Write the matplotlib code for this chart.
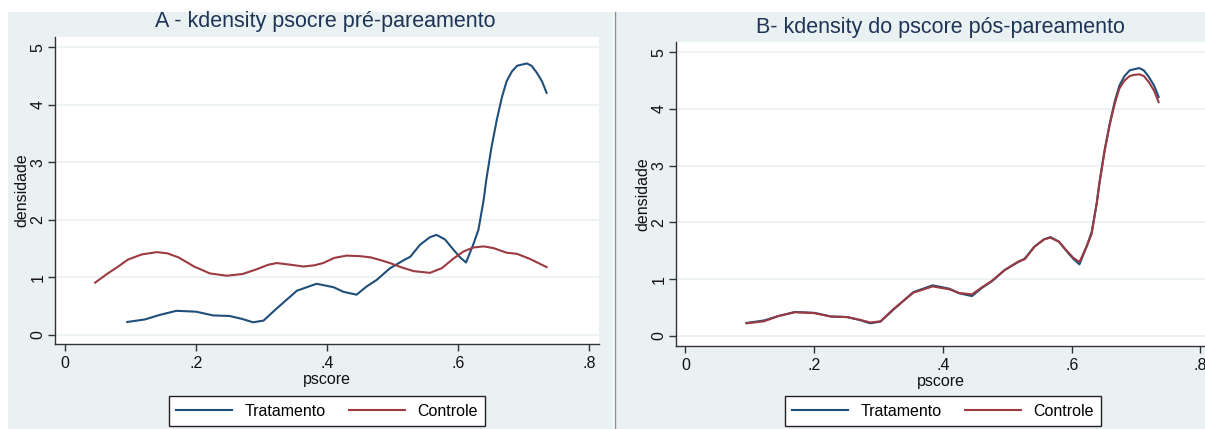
import matplotlib.pyplot as plt
from matplotlib.patches import Rectangle
from matplotlib.lines import Line2D

plt.rcParams['font.family'] = ['Liberation Sans', 'DejaVu Sans']

# Tratamento (same in both panels)
trat_x = [0.095, 0.122, 0.145, 0.17, 0.20, 0.226, 0.251, 0.27, 0.287, 0.303, 0.323,
          0.354, 0.384, 0.41, 0.425, 0.445, 0.46, 0.476, 0.496, 0.517, 0.527,
          0.542, 0.557, 0.567, 0.58, 0.593, 0.603, 0.612, 0.623, 0.631, 0.639,
          0.643, 0.651, 0.659, 0.667, 0.674, 0.682, 0.690, 0.697, 0.705, 0.712,
          0.720, 0.728, 0.735]
trat_y = [0.226, 0.27, 0.35, 0.42, 0.405, 0.34, 0.33, 0.28, 0.22, 0.25, 0.46,
          0.77, 0.89, 0.83, 0.75, 0.70, 0.84, 0.96, 1.16, 1.30, 1.36,
          1.57, 1.70, 1.74, 1.66, 1.48, 1.35, 1.26, 1.57, 1.83, 2.35,
          2.70, 3.27, 3.74, 4.14, 4.41, 4.58, 4.68, 4.70, 4.72, 4.68,
          4.56, 4.41, 4.21]

# Controle before matching
ctrl_pre_x = [0.046, 0.064, 0.08, 0.096, 0.117, 0.14, 0.156, 0.173, 0.197, 0.221,
              0.247, 0.271, 0.292, 0.31, 0.323, 0.345, 0.364, 0.38, 0.394, 0.411,
              0.43, 0.45, 0.466, 0.482, 0.496, 0.515, 0.532, 0.557, 0.575, 0.593,
              0.608, 0.623, 0.639, 0.654, 0.674, 0.69, 0.71, 0.735]
ctrl_pre_y = [0.91, 1.06, 1.18, 1.31, 1.40, 1.44, 1.42, 1.35, 1.19, 1.07,
              1.03, 1.06, 1.14, 1.22, 1.25, 1.22, 1.19, 1.21, 1.25, 1.34,
              1.38, 1.37, 1.35, 1.30, 1.25, 1.17, 1.11, 1.08, 1.16, 1.33,
              1.45, 1.52, 1.54, 1.51, 1.43, 1.41, 1.32, 1.18]

# Controle after matching (read at the same pscore points as Tratamento)
ctrl_pos_x = trat_x
ctrl_pos_y = [0.22, 0.255, 0.35, 0.415, 0.40, 0.34, 0.33, 0.285, 0.235, 0.255, 0.47,
              0.76, 0.87, 0.82, 0.755, 0.73, 0.85, 0.97, 1.16, 1.31, 1.35,
              1.57, 1.70, 1.73, 1.66, 1.49, 1.37, 1.30, 1.57, 1.80, 2.35,
              2.68, 3.25, 3.72, 4.10, 4.36, 4.50, 4.58, 4.60, 4.61, 4.58,
              4.47, 4.32, 4.12]

xticks = [0, 0.2, 0.4, 0.6, 0.8]
xtick_labels = ['0', '.2', '.4', '.6', '.8']
yticks = [0, 1, 2, 3, 4, 5]

BG = '#EAF1F3'
NAVY = '#1f4e79'
MAROON = '#9b3a40'
W, H = 1205, 429

fig = plt.figure(figsize=(W / 100, H / 100), dpi=100)
fig.patch.set_facecolor('white')

# panel backgrounds
fig.add_artist(Rectangle((8 / W, 0), (613 - 8) / W, (H - 12) / H, zorder=-10,
                         transform=fig.transFigure, facecolor=BG, edgecolor='none'))
fig.add_artist(Rectangle((616 / W, 0), (W - 616) / W, (H - 12) / H, zorder=-10,
                         transform=fig.transFigure, facecolor=BG, edgecolor='none'))
fig.add_artist(Line2D([614.5 / W, 614.5 / W], [0, (H - 12) / H], zorder=-9,
                      transform=fig.transFigure, color='#8a8f93', lw=1))


def px_axes(l, t, r, b):
    return fig.add_axes([l / W, 1 - b / H, (r - l) / W, (b - t) / H])


def style(ax, xlim, ylim, title, title_xy):
    ax.set_xlim(*xlim)
    ax.set_ylim(*ylim)
    ax.set_facecolor('white')
    for s in ['top', 'right']:
        ax.spines[s].set_visible(False)
    for s in ['left', 'bottom']:
        ax.spines[s].set_color('#333333')
        ax.spines[s].set_linewidth(1)
    ax.set_xticks(xticks)
    ax.set_xticklabels(xtick_labels)
    ax.set_yticks(yticks)
    ax.set_yticklabels([str(v) for v in yticks], rotation=90, va='center')
    ax.tick_params(axis='both', direction='out', length=5, width=1,
                   color='#333333', labelsize=11.5, labelcolor='#111111')
    ax.tick_params(axis='y', pad=2)
    ax.grid(axis='y', color=BG, lw=1.2)
    ax.set_axisbelow(True)
    ax.set_xlabel('pscore', fontsize=11.5, labelpad=1, color='#111111')
    ax.set_ylabel('densidade', fontsize=11.5, labelpad=1, color='#111111')
    fig.text(title_xy[0] / W, 1 - title_xy[1] / H, title, ha='center', va='center',
             fontsize=15.5, color='#1e3456')


# A - before matching
ax1 = px_axes(55, 37, 599, 344)
ax1.plot(trat_x, trat_y, color=NAVY, lw=1.5)
ax1.plot(ctrl_pre_x, ctrl_pre_y, color=MAROON, lw=1.5)
style(ax1, (-0.0153, 0.815), (-0.157, 5.18),
      'A - kdensity psocre pré-pareamento', (325, 22))

# B - after matching
ax2 = px_axes(676, 42, 1205, 346)
ax2.plot(trat_x, trat_y, color=NAVY, lw=1.5)
ax2.plot(ctrl_pos_x, ctrl_pos_y, color=MAROON, lw=1.5)
style(ax2, (-0.0146, 0.807), (-0.18, 5.18),
      'B- kdensity do pscore pós-pareamento', (940, 28))

handles = [Line2D([], [], color=NAVY, lw=1.5), Line2D([], [], color=MAROON, lw=1.5)]
labels = ['Tratamento', 'Controle']
for cx in (327, 943):
    leg = fig.legend(handles, labels, loc='center', ncol=2,
                     bbox_to_anchor=(cx / W, 1 - 411 / H), frameon=True,
                     fancybox=False, edgecolor='#222222', facecolor='white',
                     framealpha=1, fontsize=11.5, handlelength=3.5,
                     columnspacing=1.5, handletextpad=0.75, borderpad=0.45,
                     borderaxespad=0)
    leg.get_frame().set_linewidth(1)

fig.savefig('out.png', dpi=100, facecolor=fig.get_facecolor())
